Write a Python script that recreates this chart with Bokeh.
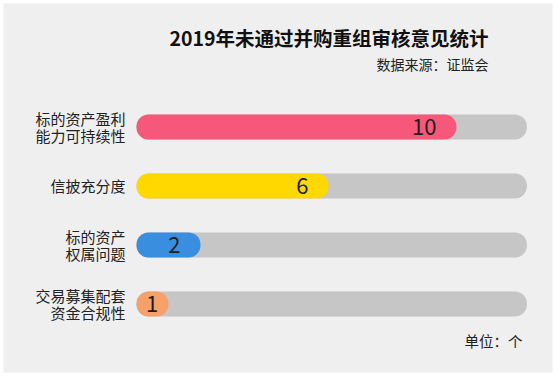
import numpy as np
from bokeh.plotting import figure
from bokeh.models import ColumnDataSource, Range1d, Label
from bokeh.core.properties import value
from bokeh.embed import file_html
from bokeh.resources import INLINE

# ---- data ----
categories = ["标的资产盈利\n能力可持续性", "信披充分度", "标的资产\n权属问题", "交易募集配套\n资金合规性"]
counts = [10, 6, 2, 1]
colors = ["#f5587a", "#ffd800", "#3a8ee0", "#f7a06a"]
title_text = "2019年未通过并购重组审核意见统计"
source_text = "数据来源：证监会"
unit_text = "单位：个"

# ---- layout constants ----
TRACK_MAX = 12.2
FONT = "Noto Sans CJK SC"

W, H = 558, 376
p = figure(width=W, height=H, output_backend="svg", toolbar_location=None,
           x_range=Range1d(-4.156, 13.0), y_range=Range1d(4.161, -2.093),
           min_border_left=3, min_border_right=6, min_border_top=3, min_border_bottom=4,
           background_fill_color="#efefef", border_fill_color="#ffffff")
p.outline_line_color = None
p.axis.visible = False
p.grid.visible = False

ypos = np.arange(len(categories))
src = ColumnDataSource(dict(
    y=ypos, v=counts, c=colors, cat=categories,
    track=[TRACK_MAX] * len(counts),
    lx=np.maximum(np.array(counts, dtype=float), 1.3),
    lab=[str(v) for v in counts],
))

p.hbar(y="y", left=0, right="track", height=0.424, source=src,
       fill_color="#c6c6c6", line_color=None, border_radius=12)
p.hbar(y="y", left=0, right="v", height=0.424, source=src,
       fill_color="c", line_color=None, border_radius=12)

p.text(x="lx", y="y", text="lab", source=src, x_offset=-20,
       text_align="right", text_baseline="middle",
       text_font=value(FONT), text_font_size="22px", text_color="#1e1e1e")

p.text(x=0, y="y", text="cat", source=src, x_offset=-11,
       text_align="right", text_baseline="middle", text_line_height=0.85,
       text_font=value(FONT), text_font_size="15px", text_color="#222222")

p.add_layout(Label(x=11.0, y=-1.52, text=title_text, text_align="right",
                   text_baseline="middle", text_font=FONT, text_font_size="19.5px",
                   text_font_style="bold", text_color="#111111"))
p.add_layout(Label(x=11.0, y=-1.076, text=source_text, text_align="right",
                   text_baseline="middle", text_font=FONT, text_font_size="14px",
                   text_color="#222222"))
p.add_layout(Label(x=12.06, y=3.619, text=unit_text, text_align="right",
                   text_baseline="middle", text_font=FONT, text_font_size="14.5px",
                   text_color="#222222"))

open("out.html", "w").write(file_html(p, INLINE))
